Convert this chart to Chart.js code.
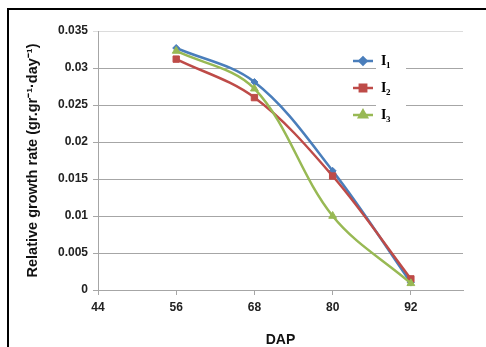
<!DOCTYPE html>
<html>
<head>
<meta charset="utf-8">
<script src="https://cdn.jsdelivr.net/npm/chart.js@4"></script>
<style>
  html, body { margin: 0; padding: 0; background: #fff; }
  #wrap { position: relative; width: 486px; height: 347px; }
  #frame {
    position: absolute; left: 7px; top: 8px; right: 0; bottom: 0;
    border-top: 2.5px solid #000; border-left: 2.5px solid #000;
    pointer-events: none;
  }
</style>
</head>
<body>
<div id="wrap">
  <canvas id="rgrChart" width="486" height="347"></canvas>
  <div id="frame"></div>
</div>
<script>
// Days after planting and relative growth rate per irrigation level
const dap = [56, 68, 80, 92];
const rgrI1 = [0.0327, 0.0281, 0.0161, 0.0010];
const rgrI2 = [0.0312, 0.0260, 0.0154, 0.0015];
const rgrI3 = [0.0323, 0.0272, 0.0100, 0.0009];

const xTicks = [44, 56, 68, 80, 92];
const yTicks = [0, 0.005, 0.01, 0.015, 0.02, 0.025, 0.03, 0.035];
const yTickLabels = ['0', '0.005', '0.01', '0.015', '0.02', '0.025', '0.03', '0.035'];

const seriesNames = ['I', 'I', 'I'];
const seriesSubs = ['1', '2', '3'];
const colors = ['#4a7ebb', '#be4b48', '#98b954'];

function points(values) {
    return dap.map((d, i) => ({ x: d, y: values[i] }));
}

// legend drawn by hand: short line + marker, then "I" with a subscript
const legendPlugin = {
    id: 'sideLegend',
    afterDatasetsDraw(chart) {
        const ctx = chart.ctx;
        ctx.save();
        ctx.fillStyle = '#fff';
        ctx.fillRect(376, 50, 30, 75);
        const rows = [61, 88, 115];
        const styles = ['rectRot', 'rect', 'triangle'];
        const radii = [3.5, 4.5, 4.5];
        rows.forEach((y, i) => {
            ctx.strokeStyle = colors[i];
            ctx.lineWidth = 2.5;
            ctx.beginPath();
            ctx.moveTo(353, y);
            ctx.lineTo(373, y);
            ctx.stroke();
            ctx.fillStyle = colors[i];
            Chart.helpers.drawPoint(ctx, {
                pointStyle: styles[i], radius: radii[i], borderWidth: 1
            }, 363, y);
            ctx.fillStyle = '#000';
            ctx.textBaseline = 'alphabetic';
            ctx.textAlign = 'left';
            ctx.font = 'bold 14px "Liberation Serif"';
            ctx.fillText(seriesNames[i], 381, y + 4);
            ctx.font = 'bold 9px "Liberation Serif"';
            ctx.fillText(seriesSubs[i], 386, y + 7);
        });
        ctx.restore();
    }
};

const ctx = document.getElementById('rgrChart').getContext('2d');

new Chart(ctx, {
    type: 'line',
    data: {
        datasets: [
            {
                label: 'I1', data: points(rgrI1), order: 3,
                borderColor: colors[0], backgroundColor: colors[0],
                pointStyle: 'rectRot', pointRadius: 3.5
            },
            {
                label: 'I2', data: points(rgrI2), order: 2,
                borderColor: colors[1], backgroundColor: colors[1],
                pointStyle: 'rect', pointRadius: 4.5
            },
            {
                label: 'I3', data: points(rgrI3), order: 1,
                borderColor: colors[2], backgroundColor: colors[2],
                pointStyle: 'triangle', pointRadius: 4.5
            }
        ]
    },
    options: {
        responsive: false,
        animation: false,
        layout: { padding: { left: 0, top: 31, right: 23, bottom: 0 } },
        elements: {
            line: { borderWidth: 2.5, tension: 0.35, fill: false },
            point: { borderWidth: 1, hoverRadius: 4 }
        },
        plugins: {
            legend: { display: false },
            tooltip: { enabled: false }
        },
        scales: {
            x: {
                type: 'linear',
                min: 44,
                max: 100,
                afterBuildTicks: scale => { scale.ticks = xTicks.map(v => ({ value: v })); },
                afterFit: scale => { scale.height = 57; },
                grid: { drawOnChartArea: false, drawTicks: true, tickLength: 5, color: '#a6a6a6' },
                border: { color: '#a6a6a6', width: 1 },
                ticks: {
                    padding: 5,
                    color: '#222',
                    font: { family: 'Liberation Sans, Arial', size: 12, weight: 'bold' },
                    maxRotation: 0
                },
                title: {
                    display: true,
                    text: 'DAP',
                    color: '#111',
                    padding: { top: 0, bottom: -2 },
                    font: { family: 'Liberation Sans, Arial', size: 14, weight: 'bold' }
                }
            },
            y: {
                min: 0,
                max: 0.035,
                afterBuildTicks: scale => { scale.ticks = yTicks.map(v => ({ value: v })); },
                afterFit: scale => { scale.width = 98; },
                grid: {
                    tickLength: 5,
                    color: c => (c.tick && c.tick.value === 0.035) ? '#dcdcdc' : '#a6a6a6'
                },
                border: { color: '#a6a6a6', width: 1 },
                ticks: {
                    padding: 5,
                    color: '#222',
                    font: { family: 'Liberation Sans, Arial', size: 12, weight: 'bold' },
                    callback: (v, i) => yTickLabels[i]
                },
                title: {
                    display: true,
                    text: 'Relative growth rate (gr.gr\u207B\u00B9\u00B7day\u207B\u00B9)',
                    color: '#111',
                    padding: { top: 24, bottom: 0 },
                    font: { family: 'Liberation Sans, Arial', size: 14.5, weight: 'bold' }
                }
            }
        }
    },
    plugins: [legendPlugin]
});
</script>
</body>
</html>
